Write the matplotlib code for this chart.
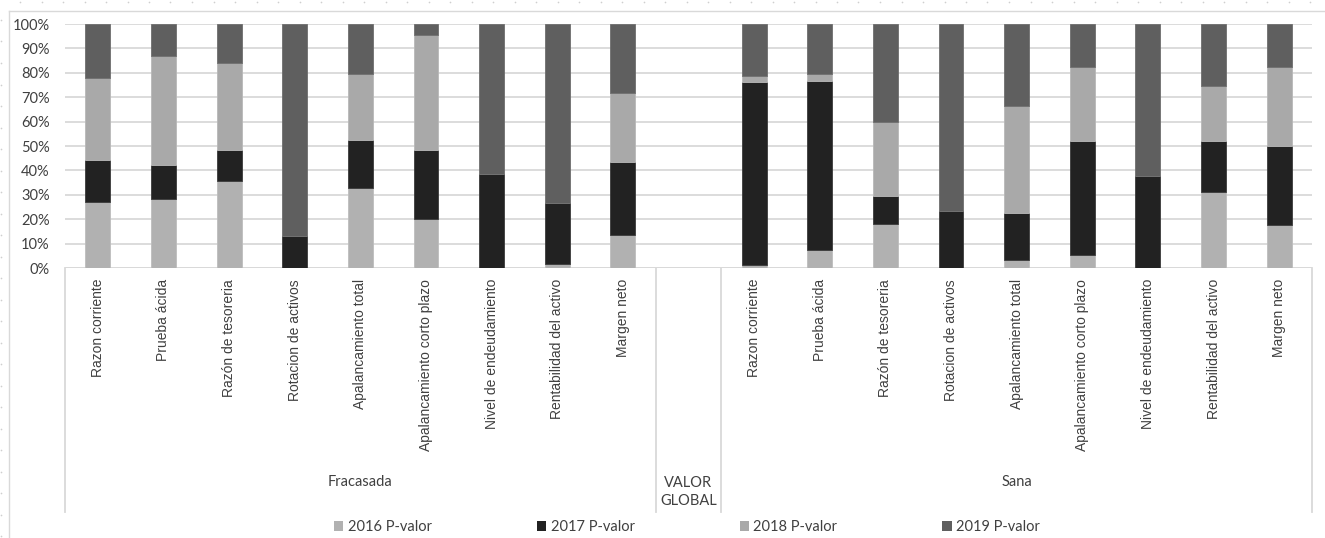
import numpy as np
import matplotlib
matplotlib.use("Agg")
import matplotlib.pyplot as plt
from matplotlib.lines import Line2D
from matplotlib.patches import Patch
from matplotlib.ticker import MultipleLocator, FuncFormatter
from matplotlib.transforms import blended_transform_factory

# ---- data (share of each year's p-value, %) ----
indicators = ["Razon corriente", "Prueba ácida", "Razón de tesoreria",
              "Rotacion de activos", "Apalancamiento total",
              "Apalancamiento corto plazo", "Nivel de endeudamiento",
              "Rentabilidad del activo", "Margen neto"]
groups = ["Fracasada", "VALOR\nGLOBAL", "Sana"]
series_names = ["2016 P-valor", "2017 P-valor", "2018 P-valor", "2019 P-valor"]

fracasada_2016 = [27.0, 28.1, 35.8, 0.0, 32.9, 20.0, 0.0, 1.5, 13.4]
fracasada_2017 = [17.2, 14.2, 12.4, 13.2, 19.6, 28.4, 38.4, 25.3, 29.9]
fracasada_2018 = [33.7, 44.5, 35.9, 0.0, 27.1, 46.9, 0.0, 0.0, 28.5]
fracasada_2019 = [22.1, 13.2, 15.9, 86.8, 20.4, 4.7, 61.6, 73.2, 28.2]

sana_2016 = [1.1, 7.3, 18.2, 0.0, 3.2, 5.2, 0.0, 31.1, 17.5]
sana_2017 = [75.3, 69.5, 11.4, 23.2, 19.4, 46.9, 37.7, 21.0, 32.5]
sana_2018 = [2.1, 2.8, 30.1, 0.0, 43.6, 30.2, 0.0, 22.3, 32.3]
sana_2019 = [21.5, 20.4, 40.3, 76.8, 33.8, 17.7, 62.3, 25.6, 17.7]

fill_colors = ["#b1b1b1", "#222222", "#a9a9a9", "#5f5f5f"]
edge_colors = ["#bdbdbd", "#3a3a3a", "#b8b8b8", "#6e6e6e"]

# ---- figure ----
W, H, DPI = 1325, 538, 100
fig = plt.figure(figsize=(W / DPI, H / DPI), dpi=DPI)
ax = fig.add_axes([65 / W, 1 - 268 / H, (1312 - 65) / W, 244 / H])

narrow = ["Liberation Sans Narrow", "Lato", "DejaVu Sans"]
arial_like = ["Liberation Sans", "Arial", "DejaVu Sans"]
text_color = "#404040"

n = len(indicators)
x_fr = np.arange(n)
x_sa = np.arange(n) + n + 1
n_slots = 2 * n + 1

fr = [fracasada_2016, fracasada_2017, fracasada_2018, fracasada_2019]
sa = [sana_2016, sana_2017, sana_2018, sana_2019]

bar_w = 0.38
for xs, block in ((x_fr, fr), (x_sa, sa)):
    vals = np.array(block, dtype=float)
    vals = vals / vals.sum(axis=0) * 100.0
    bottom = np.zeros(n)
    for k in range(4):
        ax.bar(xs, vals[k], bar_w, bottom=bottom, color=fill_colors[k],
               edgecolor=edge_colors[k], linewidth=0.6, zorder=3)
        bottom += vals[k]

ax.set_xlim(-0.5, n_slots - 0.5)
ax.set_ylim(0, 100)
ax.yaxis.set_major_locator(MultipleLocator(10))
ax.yaxis.set_major_formatter(FuncFormatter(lambda v, p: f"{v:.0f}%"))
ax.tick_params(axis="y", length=0, pad=11, labelsize=10.5, labelcolor=text_color)
for lab in ax.get_yticklabels():
    lab.set_family(narrow)
ax.set_xticks([])
ax.grid(axis="y", color="#d9d9d9", linewidth=1.3, zorder=0)
ax.set_axisbelow(True)
for s in ax.spines.values():
    s.set_visible(False)
ax.axhline(0, color="#d9d9d9", linewidth=1.3, zorder=1)

# ---- multi-level category axis ----
trans = blended_transform_factory(ax.transData, ax.transAxes)
for xs in (x_fr, x_sa):
    for xi, name in zip(xs, indicators):
        ax.text(xi, -0.045, name, transform=trans, rotation=90,
                ha="center", va="top", fontsize=10, family=arial_like,
                color=text_color)

group_centers = [x_fr.mean(), n, x_sa.mean()]
for gx, g in zip(group_centers, groups):
    yy = -0.918 if "\n" in g else -0.877
    ax.text(gx, yy, g, transform=trans, ha="center", va="center",
            fontsize=10.5, family=narrow, color=text_color, linespacing=1.35)

for dx in (-0.5, n - 0.5, n + 0.5, n_slots - 0.5):
    ax.plot([dx, dx], [0, -1.0], transform=trans, color="#d9d9d9",
            linewidth=1.3, clip_on=False)

# ---- legend ----
handles = [Patch(facecolor=c, edgecolor="none") for c in fill_colors]
fig.legend(handles, series_names, loc="center",
           bbox_to_anchor=(687 / W, 1 - 527 / H), ncol=4, frameon=False,
           handlelength=0.65, handleheight=0.65, handletextpad=0.3,
           columnspacing=7.2, prop={"family": narrow, "size": 10.5},
           labelcolor=text_color)

# ---- chart area frame and page dots ----
fig.add_artist(Line2D([9 / W, 1.0], [1 - 11 / H, 1 - 11 / H],
                      transform=fig.transFigure, color="#d9d9d9", linewidth=1.0))
fig.add_artist(Line2D([9 / W, 9 / W], [1 - 11 / H, 0.0],
                      transform=fig.transFigure, color="#d9d9d9", linewidth=1.0))
dots_x = np.arange(20, W, 21.5)
fig.add_artist(Line2D(dots_x / W, np.full_like(dots_x, 1 - 2 / H),
                      transform=fig.transFigure, linestyle="none", marker="o",
                      markersize=1.2, markerfacecolor="#cfcfcf",
                      markeredgecolor="none"))
dots_y = np.arange(20, H, 21.5)
fig.add_artist(Line2D(np.full_like(dots_y, 1 / W), 1 - dots_y / H,
                      transform=fig.transFigure, linestyle="none", marker="o",
                      markersize=1.2, markerfacecolor="#cfcfcf",
                      markeredgecolor="none"))

fig.savefig("out.png", dpi=DPI, facecolor="white")
